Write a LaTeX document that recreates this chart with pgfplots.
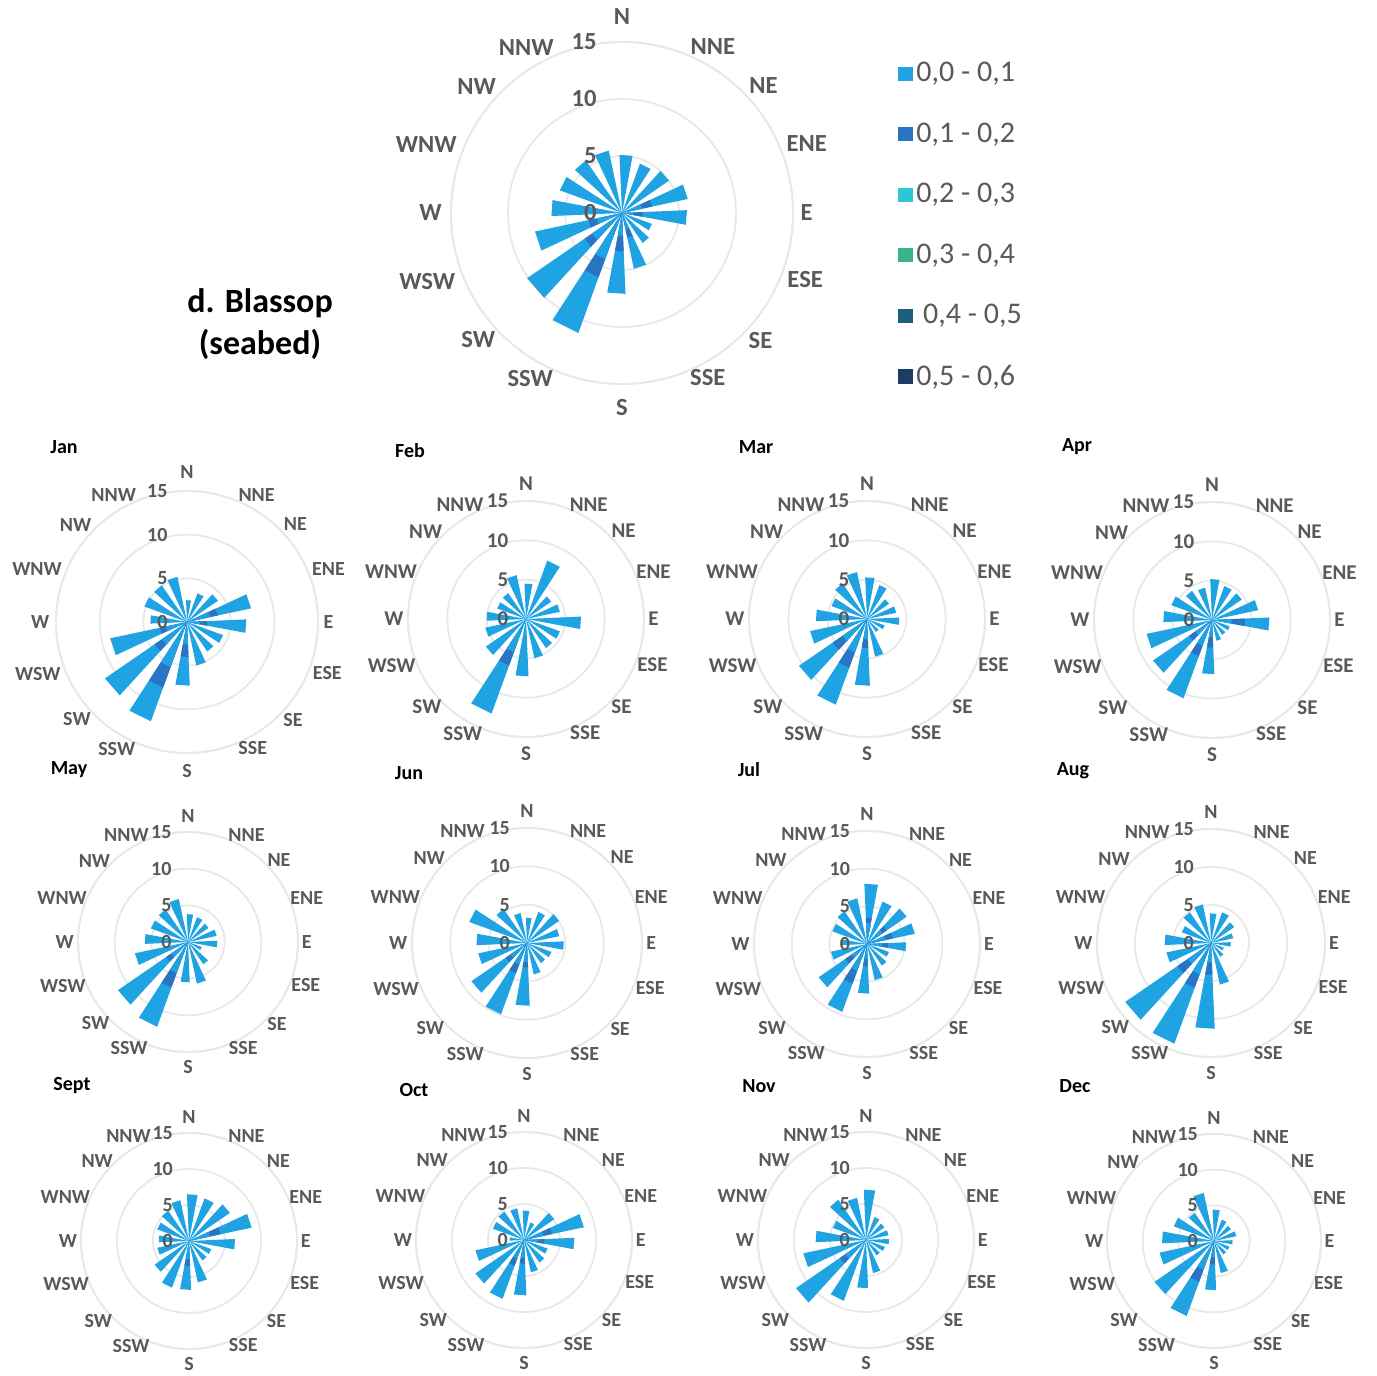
\documentclass[border=0pt]{standalone}
\usepackage{pgfplots}
\pgfplotsset{compat=1.18}
\usepackage{pgfplotstable}
\usepgfplotslibrary{polar}
\usepackage{fontspec}
\setmainfont{Carlito}

\definecolor{s1}{HTML}{1FA3E2}
\definecolor{s2}{HTML}{2A74C4}
\definecolor{s3}{HTML}{2BC6D8}
\definecolor{s4}{HTML}{39B38B}
\definecolor{s5}{HTML}{1E5E80}
\definecolor{s6}{HTML}{1D3B63}
\definecolor{lab}{HTML}{595959}
\definecolor{ring}{HTML}{E8E8E8}

% one row per direction, N, NNE, ..., NNW
% tot = bar length, a..b = band of class 0,1-0,2
\pgfplotstableread{
tot a b
5.1 0 0
4.6 0 0
5.0 0 0
5.9 1.8 2.7
5.7 1.0 1.8
2.8 0 0
3.2 0 0
5.0 1.5 2.2
7.1 2.0 3.4
11.2 4.3 6.0
10.1 3.2 4.0
7.8 2.3 3.0
6.2 0 0
5.8 0 0
5.6 0 0
5.6 0 0
}\tAnn
\pgfplotstableread{
tot a b
2.5 0 0
3.5 0 0
4.3 0 0
7.5 2.7 3.6
6.8 1.5 2.3
4.4 0 0
4.1 0 0
5.1 0 0
7.3 2.6 4.0
12.1 5.5 8.0
11.4 3.5 4.5
9.0 2.5 3.2
4.2 0 0
5.2 0 0
5.1 0 0
5.3 0 0
}\tJan
\pgfplotstableread{
tot a b
4.5 0 0
7.9 0 0
3.9 0 0
4.4 0 0
7.0 0 0
4.6 0 0
4.5 0 0
5.1 0 0
7.3 0 0
12.8 4.5 6.3
6.2 0 0
5.3 0 0
5.0 0 0
3.9 0 0
4.0 0 0
5.7 0 0
}\tFeb
\pgfplotstableread{
tot a b
5.3 0 0
4.6 0 0
3.4 0 0
3.8 0 0
4.1 0 0
2.4 0 0
2.0 0 0
4.9 0 0
8.5 2.6 3.7
11.6 4.5 6.6
10.5 3.8 5.3
7.4 0 0
6.5 0 0
4.8 0 0
5.5 0 0
6.1 0 0
}\tMar
\pgfplotstableread{
tot a b
5.2 0 0
4.6 0 0
4.6 0 0
6.0 0 0
7.3 2.5 4.2
2.4 0 0
2.3 0 0
2.7 0 0
6.9 2.2 3.5
10.6 3.5 4.9
9.1 2.6 3.5
8.5 0 0
6.2 0 0
5.5 0 0
4.5 0 0
4.2 0 0
}\tApr
\pgfplotstableread{
tot a b
3.8 0 0
3.6 0 0
3.4 0 0
4.0 0 0
4.0 0 0
2.0 0 0
3.7 0 0
5.8 0 0
5.5 0 0
12.3 4.5 6.6
11.6 2.8 3.6
7.4 0 0
5.9 0 0
5.4 0 0
5.4 0 0
6.0 0 0
}\tMay
\pgfplotstableread{
tot a b
3.3 0 0
4.3 0 0
5.1 0 0
4.3 0 0
4.8 0 0
3.4 0 0
3.2 0 0
4.2 0 0
8.2 2.5 3.2
9.9 3.0 4.2
8.8 2.6 3.4
6.5 0 0
6.6 0 0
8.0 0 0
5.4 0 0
4.0 0 0
}\tJun
\pgfplotstableread{
tot a b
8.0 2.8 3.5
6.0 0 0
6.4 2.5 3.2
6.5 2.5 3.5
5.2 2.0 2.8
3.1 0 0
3.5 0 0
4.9 0 0
6.6 2.0 3.0
9.6 3.8 5.6
7.8 2.5 3.5
4.9 0 0
3.5 0 0
4.9 0 0
5.3 0 0
6.2 0 0
}\tJul
\pgfplotstableread{
tot a b
3.9 0 0
4.3 0 0
3.7 0 0
3.0 0 0
2.6 0 0
1.8 0 0
2.2 0 0
5.6 0 0
11.3 2.6 4.2
14.1 4.4 6.3
13.7 3.7 5.4
6.0 0 0
6.1 0 0
4.1 0 0
4.9 0 0
5.2 0 0
}\tAug
\pgfplotstableread{
tot a b
6.5 0 0
6.3 0 0
6.9 0 0
8.9 3.0 4.5
6.4 0 0
3.3 0 0
3.3 0 0
5.9 0 0
6.8 2.5 3.5
6.9 0 0
5.8 0 0
4.5 0 0
4.2 0 0
4.7 0 0
5.1 0 0
5.8 0 0
}\tSep
\pgfplotstableread{
tot a b
4.1 0 0
2.6 0 0
5.1 0 0
8.5 2.8 4.0
7.0 2.0 2.8
3.5 0 0
3.8 0 0
4.6 0 0
7.7 2.5 3.3
8.7 2.8 3.8
8.2 0 0
6.9 0 0
2.0 0 0
4.6 0 0
4.8 0 0
4.5 0 0
}\tOct
\pgfplotstableread{
tot a b
7.0 0 0
3.4 0 0
3.1 0 0
3.2 0 0
3.2 0 0
2.8 0 0
2.6 0 0
4.7 0 0
6.7 0 0
9.0 0 0
11.8 3.5 4.4
8.9 0 0
7.0 0 0
4.9 0 0
6.8 0 0
6.0 0 0
}\tNov
\pgfplotstableread{
tot a b
4.4 0 0
3.2 0 0
2.9 0 0
3.2 0 0
2.6 0 0
2.3 0 0
2.3 0 0
4.6 0 0
6.9 2.3 3.3
11.2 4.3 6.1
10.1 0 0
7.8 0 0
7.3 0 0
6.0 0 0
4.8 0 0
6.9 0 0
}\tDec

% one sector: row #2 of table #1, drawn as wedges from the centre
\newcommand\petal[2]{%
  \pgfplotstablegetelem{#2}{tot}\of{#1}\let\vt\pgfplotsretval
  \pgfplotstablegetelem{#2}{a}\of{#1}\let\va\pgfplotsretval
  \pgfplotstablegetelem{#2}{b}\of{#1}\let\vb\pgfplotsretval
  \pgfmathsetmacro\tl{90-22.5*#2-10.5}%
  \pgfmathsetmacro\tr{90-22.5*#2+2.5}%
  \edef\doit{%
    \noexpand\addplot[draw=none, fill=s1, forget plot] coordinates {(0,0) (\tl,\vt) (\tr,\vt)} -- cycle;
    \noexpand\addplot[draw=none, fill=s2, forget plot] coordinates {(0,0) (\tl,\vb) (\tr,\vb)} -- cycle;
    \noexpand\addplot[draw=none, fill=s1, forget plot] coordinates {(0,0) (\tl,\va) (\tr,\va)} -- cycle;
  }\doit
}
\newcommand\petals[1]{\pgfplotsinvokeforeach{0,...,15}{\petal{#1}{##1}}}

\tikzset{lb/.style={text=lab, inner sep=0pt, font=\fontsize{#1}{#1}\selectfont\bfseries}}

% radial labels left of the N line
\newcommand\rings[2]{%
  \node[lb={#2}, anchor=east, xshift=-#1pt] at (axis cs:90,15) {15};
  \node[lb={#2}, anchor=east, xshift=-#1pt] at (axis cs:90,10) {10};
  \node[lb={#2}, anchor=east, xshift=-#1pt] at (axis cs:90,5) {5};
  \node[lb={#2}, anchor=east, xshift=-#1pt] at (axis cs:90,0) {0};
}
% compass labels round the outer ring
\newcommand\dirs[1]{%
  \node[lb={#1}] at (axis cs:90,17.2) {N};
  \node[lb={#1}] at (axis cs:61.3,16.6) {NNE};
  \node[lb={#1}] at (axis cs:42,16.7) {NE};
  \node[lb={#1}] at (axis cs:20.5,17.3) {ENE};
  \node[lb={#1}] at (axis cs:0,16.2) {E};
  \node[lb={#1}] at (axis cs:340,17.1) {ESE};
  \node[lb={#1}] at (axis cs:317.4,16.5) {SE};
  \node[lb={#1}] at (axis cs:297.5,16.3) {SSE};
  \node[lb={#1}] at (axis cs:270,17.1) {S};
  \node[lb={#1}] at (axis cs:241,16.6) {SSW};
  \node[lb={#1}] at (axis cs:221.4,16.8) {SW};
  \node[lb={#1}] at (axis cs:199.3,18.1) {WSW};
  \node[lb={#1}] at (axis cs:180,16.8) {W};
  \node[lb={#1}] at (axis cs:160.6,18.2) {WNW};
  \node[lb={#1}] at (axis cs:139,16.9) {NW};
  \node[lb={#1}] at (axis cs:120,16.8) {NNW};
}

\pgfplotsset{
  rose/.style={
    scale only axis, anchor=origin, clip=false,
    width=#1pt, height=#1pt,
    ymin=0, ymax=15, ytick={5,10,15}, yticklabel=\empty,
    xtick=\empty,
    xmajorgrids=false, ymajorgrids=true,
    major grid style={draw=ring, line width=0.9pt},
    x axis line style={draw=ring, line width=0.9pt},
    y axis line style={draw=none},
    major tick length=0pt,
  },
}

\begin{document}
\begin{tikzpicture}
\useasboundingbox (0,0) rectangle (688.5pt,688pt);

\begin{polaraxis}[rose=171, at={(311pt,581.5pt)},
    legend style={at={(1.307,0.953)}, anchor=north west, draw=none, fill=none,
      inner sep=0pt, row sep=15pt, text=lab, font=\fontsize{15}{17}\selectfont,
      cells={anchor=west}},
    legend image code/.code={\fill[#1] (0pt,-3.3pt) rectangle (6.6pt,3.3pt);}]
  \petals{\tAnn}
  \rings{12.5}{12.3}
  \dirs{12.3}
  \addlegendimage{s1}\addlegendentry{0,0 - 0,1}
  \addlegendimage{s2}\addlegendentry{0,1 - 0,2}
  \addlegendimage{s3}\addlegendentry{0,2 - 0,3}
  \addlegendimage{s4}\addlegendentry{0,3 - 0,4}
  \addlegendimage{s5}\addlegendentry{\ 0,4 - 0,5}
  \addlegendimage{s6}\addlegendentry{0,5 - 0,6}
\end{polaraxis}

\begin{polaraxis}[rose=131, at={(93.5pt,377pt)}]
  \petals{\tJan}
  \rings{9.6}{10}
  \dirs{10}
\end{polaraxis}
\begin{polaraxis}[rose=118, at={(263pt,378.5pt)}]
  \petals{\tFeb}
  \rings{8.7}{10.5}
  \dirs{10.5}
\end{polaraxis}
\begin{polaraxis}[rose=118, at={(433.5pt,378.5pt)}]
  \petals{\tMar}
  \rings{8.7}{10.5}
  \dirs{10.5}
\end{polaraxis}
\begin{polaraxis}[rose=118, at={(606pt,378pt)}]
  \petals{\tApr}
  \rings{8.7}{10.5}
  \dirs{10.5}
\end{polaraxis}

\begin{polaraxis}[rose=110, at={(94pt,217pt)}]
  \petals{\tMay}
  \rings{8.1}{10}
  \dirs{10}
\end{polaraxis}
\begin{polaraxis}[rose=115, at={(263.5pt,216.5pt)}]
  \petals{\tJun}
  \rings{8.4}{10}
  \dirs{10}
\end{polaraxis}
\begin{polaraxis}[rose=113, at={(433.5pt,216pt)}]
  \petals{\tJul}
  \rings{8.3}{10}
  \dirs{10}
\end{polaraxis}
\begin{polaraxis}[rose=114, at={(605.5pt,216.5pt)}]
  \petals{\tAug}
  \rings{8.4}{10}
  \dirs{10}
\end{polaraxis}

\begin{polaraxis}[rose=108, at={(94.5pt,67.5pt)}]
  \petals{\tSep}
  \rings{7.9}{10}
  \dirs{10}
\end{polaraxis}
\begin{polaraxis}[rose=108, at={(262pt,68pt)}]
  \petals{\tOct}
  \rings{7.9}{10}
  \dirs{10}
\end{polaraxis}
\begin{polaraxis}[rose=108, at={(433pt,68pt)}]
  \petals{\tNov}
  \rings{7.9}{10}
  \dirs{10}
\end{polaraxis}
\begin{polaraxis}[rose=107, at={(607pt,67.5pt)}]
  \petals{\tDec}
  \rings{7.9}{10}
  \dirs{10}
\end{polaraxis}

\node[font=\fontsize{17}{21}\selectfont\bfseries, align=center] at (130pt,526pt) {d. Blassop\\(seabed)};
\begin{scope}[every node/.style={font=\fontsize{10}{12}\selectfont\bfseries}]
  \node at (32pt,464.5pt) {Jan};
  \node at (205pt,462.5pt) {Feb};
  \node at (378pt,464.5pt) {Mar};
  \node at (538.5pt,464.5pt) {Apr};
  \node at (34.5pt,303pt) {May};
  \node at (204.5pt,301.5pt) {Jun};
  \node at (374.5pt,303pt) {Jul};
  \node at (536.5pt,302.5pt) {Aug};
  \node at (36pt,145pt) {Sept};
  \node at (207pt,143pt) {Oct};
  \node at (379.5pt,145pt) {Nov};
  \node at (537.5pt,145pt) {Dec};
\end{scope}
\end{tikzpicture}
\end{document}
